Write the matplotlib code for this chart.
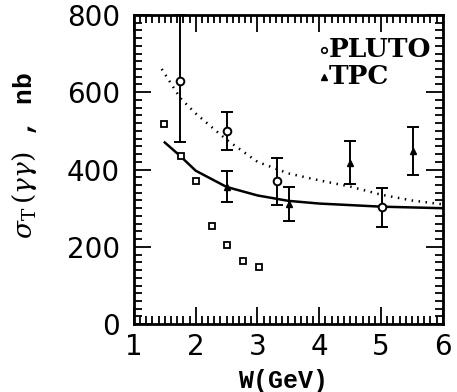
import matplotlib
matplotlib.use("Agg")
import matplotlib.pyplot as plt
from matplotlib.ticker import MultipleLocator

plt.rcParams['mathtext.fontset'] = 'dejavuserif'

# PLUTO (open circles)
pluto_w = [1.74, 2.5, 3.31, 5.02]
pluto_s = [630, 500, 370, 302]
pluto_lo = [160, 50, 62, 50]
pluto_hi = [170, 50, 60, 51]

# TPC (filled triangles)
tpc_w = [2.5, 3.51, 4.5, 5.52]
tpc_s = [355, 312, 418, 449]
tpc_err = [40, 44, 55, 62]

# open squares (no error bars)
sq_w = [1.49, 1.755, 2.01, 2.27, 2.51, 2.77, 3.03]
sq_s = [517, 436, 371, 255, 206, 163, 147]

# solid curve
solid_w = [1.5, 1.75, 2.0, 2.5, 3.0, 3.5, 4.0, 5.0, 6.0]
solid_s = [470, 435, 397, 355, 333, 319, 312, 304, 300]

# dotted curve
dot_w = [1.45, 1.75, 2.0, 2.5, 3.0, 3.5, 4.0, 4.5, 5.0, 5.5, 6.0]
dot_s = [660, 585, 545, 477, 420, 390, 372, 356, 335, 320, 310]

xticks = [1, 2, 3, 4, 5, 6]
yticks = [0, 200, 400, 600, 800]

fig = plt.figure(figsize=(4.57, 3.92), dpi=100)
ax = fig.add_axes([0.293, 0.173, 0.676, 0.789])

ax.plot(solid_w, solid_s, color='black', lw=1.8)
ax.plot(dot_w, dot_s, color='black', lw=1.8, linestyle=(0, (0.6, 2.2)))

ax.errorbar(pluto_w, pluto_s, yerr=[pluto_lo, pluto_hi], fmt='o', mfc='white',
            mec='black', mew=1.4, ms=5.5, ecolor='black', elinewidth=1.4,
            capsize=4.5, capthick=1.4, zorder=3, clip_on=False)
ax.errorbar(tpc_w, tpc_s, yerr=tpc_err, fmt='^', mfc='black', mec='black',
            ms=5, ecolor='black', elinewidth=1.4, capsize=4.5, capthick=1.4, zorder=3)
ax.plot(sq_w, sq_s, 's', mfc='white', mec='black', mew=1.3, ms=4.3, linestyle='none')

ax.set_xlim(1, 6)
ax.set_ylim(0, 800)
ax.set_xticks(xticks)
ax.set_yticks(yticks)
ax.xaxis.set_minor_locator(MultipleLocator(0.1))
ax.yaxis.set_minor_locator(MultipleLocator(20))
ax.tick_params(which='both', direction='in', top=True, right=True, width=1.3)
ax.tick_params(which='major', length=12, labelsize=20)
ax.tick_params(axis='x', which='major', pad=6)
ax.tick_params(axis='y', which='major', pad=10)
ax.tick_params(which='minor', length=6)
for lab in ax.get_xticklabels() + ax.get_yticklabels():
    lab.set_fontfamily('DejaVu Sans')
for s in ax.spines.values():
    s.set_linewidth(2)

fig.text(283 / 457, 1 - 381 / 392, 'W(GeV)', family='Liberation Mono', fontweight='bold',
         fontsize=18, ha='center', va='center')
fig.text(25 / 457, 1 - 155 / 392, r'$\sigma_{\rm T}\,(\gamma\gamma)$ , nb', family='Liberation Mono',
         fontweight='bold', fontsize=19, rotation=90, ha='center', va='center')

# legend
ax.plot([4.08], [710], 'o', mfc='white', mec='black', mew=1.2, ms=4)
ax.text(4.16, 710, 'PLUTO', fontfamily='DejaVu Serif', fontweight='bold', fontsize=19, va='center')
ax.plot([4.08], [640], '^', mfc='black', mec='black', ms=4.5)
ax.text(4.16, 640, 'TPC', fontfamily='DejaVu Serif', fontweight='bold', fontsize=19, va='center')

fig.savefig('out.png', dpi=100)
